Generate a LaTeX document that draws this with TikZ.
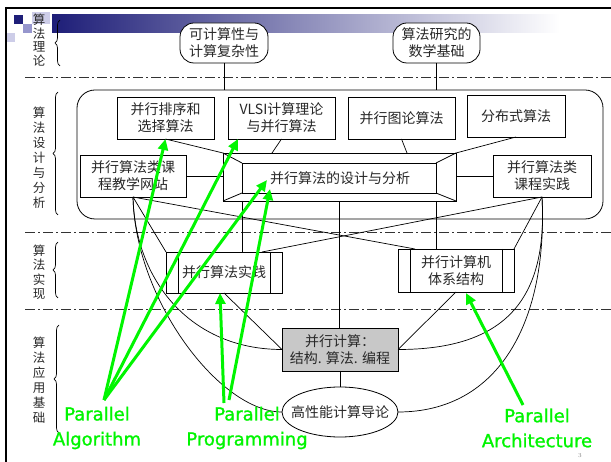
\documentclass[tikz,border=0pt]{standalone}
\usepackage{fontspec}
\newfontfamily\cjk{Noto Sans CJK SC}
\newfontfamily\gfont[FakeBold=1.2]{DejaVu Sans}
\usetikzlibrary{arrows.meta,decorations.pathreplacing,calc,shapes.geometric}
\definecolor{navyc}{RGB}{30,30,120}
\definecolor{lavm}{RGB}{150,150,205}
\definecolor{lavl}{RGB}{205,205,232}
\definecolor{gr}{RGB}{0,245,0}
\definecolor{boxgray}{RGB}{200,200,200}
\definecolor{txt}{RGB}{40,40,40}
\begin{document}
\begin{tikzpicture}[x=1pt,y=-1pt,
  every node/.style={inner sep=0pt, outer sep=0pt},
  box/.style={draw, fill=white, line width=0.8pt, align=center, text=txt, font=\cjk\fontsize{14}{17}\selectfont},
  conn/.style={line width=0.7pt},
  garrow/.style={draw=gr, line width=3pt, -{Triangle[length=11pt,width=10pt]}},
  glabel/.style={text=gr, align=center, font=\gfont\fontsize{18}{25}\selectfont},
  vlab/.style={align=center, text=txt},
  dashdot/.style={line width=0.7pt, draw=black!80, dash pattern=on 10pt off 3pt on 2pt off 3pt},
  brc/.style={decorate, decoration={brace, amplitude=5pt}, line width=0.7pt}]

\useasboundingbox (0,0) rectangle (611,462);
\fill[white] (0,0) rectangle (611,462);

% slide decoration
\shade[left color=navyc, right color=white] (52,15) rectangle (560,33);
\fill[lavl] (32,12) rectangle (50,24);
\fill[navyc] (14,15) rectangle (23,24);
\fill[lavm] (23,24) rectangle (32,33);
\fill[lavl] (7,33) rectangle (15,42);
\draw[line width=2.5pt] (5,8) -- (611,8);
\draw[line width=2.5pt] (6,7) -- (6,462);

% layer separators
\draw[dashdot] (25,77) -- (611,77);
\draw[dashdot] (25,232) -- (611,232);
\draw[dashdot] (25,309) -- (611,309);

% left labels and braces
\node[vlab, font=\cjk\fontsize{12.5}{13.5}\selectfont] (lt) at (39,40) {算\\法\\理\\论};
\node[vlab, font=\cjk\fontsize{12.5}{15}\selectfont] (ld) at (39,157.5) {算\\法\\设\\计\\与\\分\\析};
\node[vlab, font=\cjk\fontsize{12.5}{14.5}\selectfont] (li) at (39,272) {算\\法\\实\\现};
\node[vlab, font=\cjk\fontsize{12.5}{15}\selectfont] (la) at (39,380) {算\\法\\应\\用\\基\\础};
\draw[brc] (60,66) -- (60,20);
\draw[brc] (58,215) -- (58,92);
\draw[brc] (58,298) -- (58,242);
\draw[brc] (59,433) -- (59,325);

% theory
\node[box, rounded corners=14pt, minimum width=88pt, minimum height=40pt] (n1) at (224,43) {可计算性与\\计算复杂性};
\node[box, rounded corners=14pt, minimum width=87pt, minimum height=40pt] (n2) at (436.5,43) {算法研究的\\数学基础};
\node[draw, line width=0.8pt, rounded corners=18pt, minimum width=526pt, minimum height=129pt] (big) at (340,154.5) {};
\draw[conn] (n1.south) -- (n1.south |- big.north);
\draw[conn] (n2.south) -- (n2.south |- big.north);

% design and analysis
\node[box, minimum width=97pt, minimum height=42pt] (sort) at (165.5,118) {并行排序和\\选择算法};
\node[box, minimum width=107pt, minimum height=42pt] (vlsi) at (281.5,118) {VLSI计算理论\\与并行算法};
\node[box, minimum width=107pt, minimum height=42pt] (graph) at (401.5,118) {并行图论算法};
\node[box, minimum width=98pt, minimum height=42pt] (dist) at (516,116) {分布式算法};
\node[box, minimum width=106pt, minimum height=42pt] (web) at (133,176) {并行算法类课\\程教学网站};
\node[box, minimum width=98pt, minimum height=42pt] (course) at (542,176) {并行算法类\\课程实践};
\node[box, minimum width=233pt, minimum height=48pt] (design) at (339.5,177) {};
\coordinate (iNW) at ($(design.north west)+(19,10)$);
\coordinate (iNE) at ($(design.north east)+(-20,10)$);
\coordinate (iSW) at ($(design.south west)+(19,-8)$);
\coordinate (iSE) at ($(design.south east)+(-20,-8)$);
\draw[line width=0.8pt] (iNW) rectangle (iSE);
\draw[line width=0.8pt] (design.north west) -- (iNW) (design.north east) -- (iNE)
  (design.south west) -- (iSW) (design.south east) -- (iSE);
\node[text=txt, font=\cjk\fontsize{14}{17}\selectfont] (dlabel) at (340,178) {并行算法的设计与分析};

\draw[conn] (sort.south) -- (design.north west);
\draw[conn] (vlsi.south) -- ($(design.north west)+(49,0)$);
\draw[conn] (graph.south) -- ($(design.north west)+(184,0)$);
\draw[conn] (dist.south) -- (design.north east);
\draw[conn] (web.east) -- (web.east -| design.west);
\draw[conn] (course.west) -- (course.west -| design.east);

% realization
\node[box, minimum width=116pt, minimum height=41pt] (prac) at (224,272.5) {并行算法实践};
\draw[line width=0.8pt] ($(prac.north west)+(12,0)$) -- ($(prac.south west)+(12,0)$)
  ($(prac.north east)+(-12,0)$) -- ($(prac.south east)+(-12,0)$);
\node[box, minimum width=116pt, minimum height=43pt] (arch) at (456,270.5) {并行计算机\\体系结构};
\draw[line width=0.8pt] ($(arch.north west)+(12,0)$) -- ($(arch.south west)+(12,0)$)
  ($(arch.north east)+(-12,0)$) -- ($(arch.south east)+(-12,0)$);

% application base
\node[box, fill=boxgray, minimum width=116pt, minimum height=43pt] (gray) at (340,349.5) {并行计算：\\结构. 算法. 编程};
\node[box, ellipse, minimum width=116pt, minimum height=50pt] (ell) at (340,412) {\makebox[0pt]{高性能计算导论}};

\coordinate (dl) at ($(design.south west)+(19,0)$);
\coordinate (dr) at ($(design.south east)+(-20,0)$);
\coordinate (archTop) at ($(arch.north west)+(17,0)$);
\coordinate (pracTop) at ($(prac.north east)+(-20,0)$);
\draw[conn] (dl) -- (dl |- prac.north);
\draw[conn] (dr) -- (dr |- arch.north);
\draw[conn] (design.south) -- (design.south |- gray.north);
\draw[conn] (gray.south) -- (ell.north);
\draw[conn] (web.south) -- (prac.north west);
\draw[conn] (web.south) -- (archTop);
\draw[conn] (course.south) -- (arch.north east);
\draw[conn] (course.south) -- (pracTop);
\draw[conn] (prac.south) -- (gray.west);
\draw[conn] (arch.south) -- (gray.east);
\draw[conn] (web.south) .. controls (135,300) and (220,412) .. (ell.west);
\draw[conn] (web.south) .. controls (135,280) and (190,349.5) .. (gray.west);
\draw[conn] (course.south) .. controls (548,320) and (500,412) .. (ell.east);
\draw[conn] (course.south) .. controls (548,300) and (505,349.5) .. (gray.east);

% green annotations
\node[glabel] (galg) at (97,428) {Parallel\\Algorithm};
\node[glabel] (gprog) at (247,428) {Parallel\\Programming};
\node[glabel] (garch) at (537,428) {Parallel\\Architecture};
\coordinate (aS) at (104,400);
\coordinate (pS1) at (224,403);
\coordinate (pS2) at (229,400);
\coordinate (rS) at (523,405);
\coordinate (tV) at (238,139);
\coordinate (tD1) at (267,180);
\coordinate (tD2) at (270,189);
\coordinate (tP) at (220,293);
\coordinate (tA) at (466,293);
\draw[garrow] (aS) -- (sort.south);
\draw[garrow] (aS) -- (tV);
\draw[garrow] (aS) -- (tD1);
\draw[garrow] (pS1) -- (tP);
\draw[garrow] (pS2) -- (tD2);
\draw[garrow] (rS) -- (tA);

\node[font=\fontsize{6}{6}\selectfont, text=gray] (pg) at (580,456) {3};
\end{tikzpicture}
\end{document}
